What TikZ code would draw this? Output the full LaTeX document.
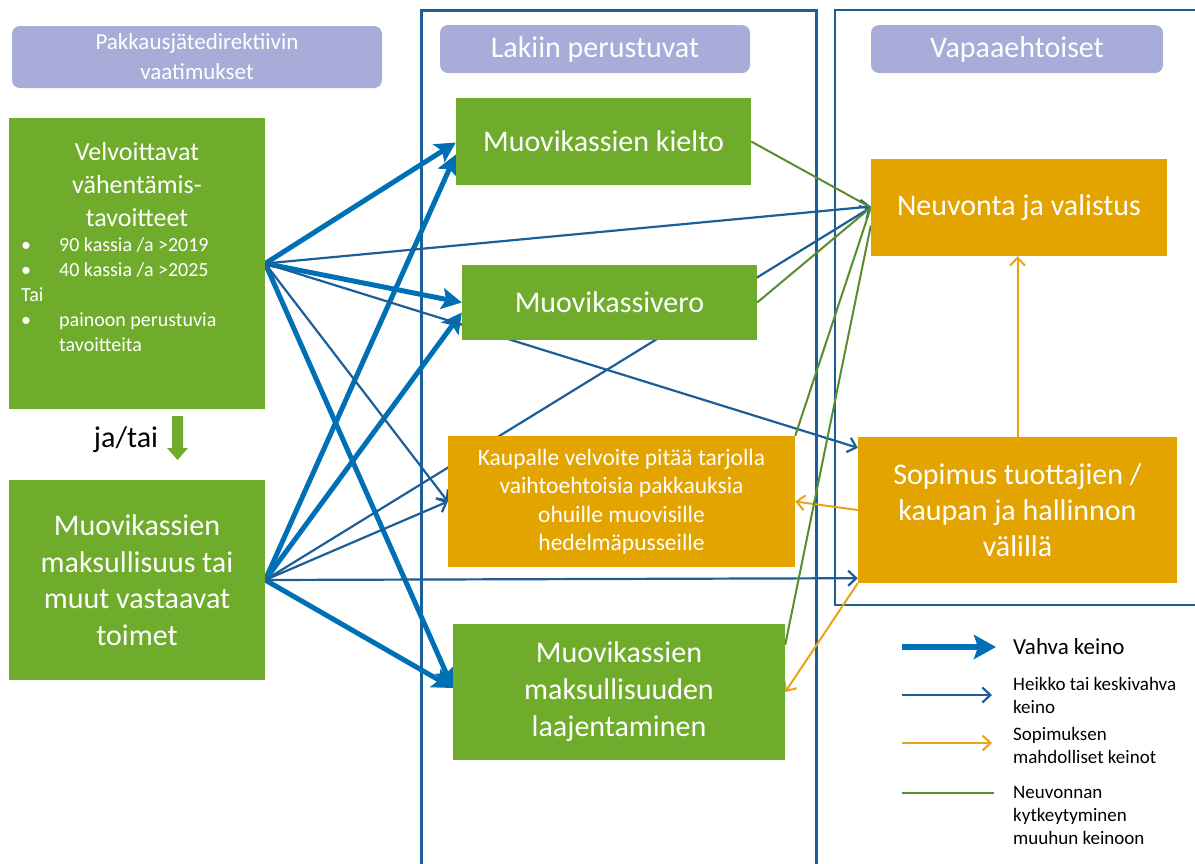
\documentclass[tikz,border=0pt]{standalone}
\usepackage{fontspec}
\setmainfont{Carlito}
\usetikzlibrary{arrows.meta,calc}
\definecolor{boxgreen}{RGB}{111,172,44}
\definecolor{boxorange}{RGB}{227,164,0}
\definecolor{headlav}{RGB}{167,173,216}
\definecolor{strongblue}{RGB}{0,112,181}
\definecolor{weakblue}{RGB}{27,94,152}
\definecolor{linkgreen}{RGB}{88,140,46}
\definecolor{dealorange}{RGB}{232,163,23}
\pgfdeclarelayer{back}
\pgfdeclarelayer{links}
\pgfsetlayers{back,links,main}
\begin{document}
\begin{tikzpicture}[x=1pt, y=-1pt,
  box/.style={inner sep=0pt, align=center, text=white, font=\fontsize{30}{36.5}\selectfont},
  greenbox/.style={box, fill=boxgreen},
  orangebox/.style={box, fill=boxorange},
  headbox/.style={box, fill=headlav, rounded corners=8pt, font=\fontsize{30}{36}\selectfont},
  strong/.style={strongblue, line width=5pt, -{Stealth[length=20pt,width=21pt,inset=4pt]}},
  weak/.style={weakblue, line width=2.2pt, -{Straight Barb[length=8pt,width=15pt]}},
  deal/.style={dealorange, line width=2pt, -{Straight Barb[length=8pt,width=15pt]}},
  link/.style={linkgreen, line width=2pt},
  legendtext/.style={anchor=west, align=left, inner sep=0pt, font=\fontsize{19}{23}\selectfont}]
\useasboundingbox (0,0) rectangle (1195,863);

% otsikot
\node [headbox, minimum width=370pt, minimum height=62pt, font=\fontsize{23}{30}\selectfont] (head1) at (197,57) {Pakkausjätedirektiivin\\vaatimukset};
\node [headbox, minimum width=310pt, minimum height=48pt] (head2) at (595,49) {Lakiin perustuvat};
\node [headbox, minimum width=292pt, minimum height=48pt] (head3) at (1017,49) {Vapaaehtoiset};

\begin{pgfonlayer}{back}
\draw [weakblue, line width=3pt] (421,10) rectangle (816,880);
\draw [weakblue, line width=2.5pt] (835,10) rectangle (1210,605);
\end{pgfonlayer}

% direktiivi
\node [greenbox, minimum width=256pt, minimum height=291pt] (velv) at (137,263.5) {};
\node [box, font=\fontsize{26}{33}\selectfont] (velvtitle) at (137,185) {Velvoittavat\\vähentämis-\\tavoitteet};
\node [box, anchor=west, align=left, font=\fontsize{20}{25}\selectfont] (velvlist) at (21,296)
  {\begin{tabular}{@{}p{38pt}@{}l@{}}
   •&90 kassia /a >2019\\
   •&40 kassia /a >2025\\
   \multicolumn{2}{@{}l}{Tai}\\
   •&painoon perustuvia\\
   &tavoitteita
   \end{tabular}};
\node [inner sep=0pt, font=\fontsize{30}{36}\selectfont] (jatai) at (126,440) {ja/tai};
\fill [boxgreen] (172,416) -- (183,416) -- (183,448) -- (188,448) -- (177.5,460) -- (167,448) -- (172,448) -- cycle;
\node [greenbox, minimum width=256pt, minimum height=200pt] (maks) at (137,580) {Muovikassien\\maksullisuus tai\\muut vastaavat\\toimet};

% lakiin perustuvat
\node [greenbox, minimum width=295pt, minimum height=87pt] (kielto) at (603.5,141.5) {Muovikassien kielto};
\node [greenbox, minimum width=295pt, minimum height=75pt] (vero) at (609.5,302.5) {Muovikassivero};
\node [orangebox, minimum width=347pt, minimum height=131pt, font=\fontsize{23.5}{28.5}\selectfont] (kaup) at (621.5,501.5) {Kaupalle velvoite pitää tarjolla\\vaihtoehtoisia pakkauksia\\ohuille muovisille\\hedelmäpusseille};
\node [greenbox, minimum width=332pt, minimum height=136pt, font=\fontsize{30}{37}\selectfont] (laaj) at (619,692) {Muovikassien\\maksullisuuden\\laajentaminen};

% vapaaehtoiset
\node [orangebox, minimum width=296pt, minimum height=97pt] (neuv) at (1019,207.5) {Neuvonta ja valistus};
\node [orangebox, minimum width=319pt, minimum height=146pt, font=\fontsize{30}{36}\selectfont] (sop) at (1017.5,510) {Sopimus tuottajien /\\kaupan ja hallinnon\\välillä};

\begin{pgfonlayer}{links}
% vahvat keinot
\draw [strong] (velv.east) -- ($(kielto.west)+(0,1)$);
\draw [strong] (velv.east) -- (vero.west);
\draw [strong] (velv.east) -- ($(laaj.west)+(0,-4)$);
\draw [strong] (maks.east) -- ($(kielto.west)+(0,13)$);
\draw [strong] (maks.east) -- ($(vero.west)+(0,10)$);
\draw [strong] (maks.east) -- ($(laaj.west)+(0,-4)$);
% heikot keinot
\draw [weak] (velv.east) -- ($(neuv.west)+(0,-1)$);
\draw [weak] (velv.east) -- ($(sop.north west)+(0,11)$);
\draw [weak] (velv.east) -- (kaup.west);
\draw [weak] (maks.east) -- (kaup.west);
\draw [weak] (maks.east) -- (neuv.west);
\draw [weak] (maks.east) -- ($(sop.south west)+(0,-5)$);
% sopimus
\draw [deal] (sop.north) -- (sop.north |- neuv.south);
\draw [deal] (sop.west) -- (kaup.east);
\draw [deal] (sop.south west) -- (laaj.east);
% neuvonta
\draw [link] (kielto.east) -- (neuv.west);
\draw [link] (vero.east) -- (neuv.west);
\draw [link] (kaup.north east) -- (neuv.west);
\draw [link] ($(laaj.north east)+(0,21)$) -- ($(neuv.west)+(0,18)$);
\end{pgfonlayer}

% selitteet
\coordinate (lg1a) at (902,647);  \coordinate (lg1b) at (996,647);
\coordinate (lg2a) at (902,695);  \coordinate (lg2b) at (992,695);
\coordinate (lg3a) at (902,743);  \coordinate (lg3b) at (992,743);
\coordinate (lg4a) at (902,793);  \coordinate (lg4b) at (994,793);
\draw [strong, line width=6.5pt, -{Stealth[length=22pt,width=24pt,inset=4pt]}] (lg1a) -- (lg1b);
\draw [weak] (lg2a) -- (lg2b);
\draw [deal] (lg3a) -- (lg3b);
\draw [link] (lg4a) -- (lg4b);
\node [legendtext, font=\fontsize{23}{27}\selectfont] (lt1) at (1013,647) {Vahva keino};
\node [legendtext] (lt2) at (1013,695) {Heikko tai keskivahva\\keino};
\node [legendtext] (lt3) at (1013,745) {Sopimuksen\\mahdolliset keinot};
\node [legendtext] (lt4) at (1013,815) {Neuvonnan\\kytkeytyminen\\muuhun keinoon};
\end{tikzpicture}
\end{document}
